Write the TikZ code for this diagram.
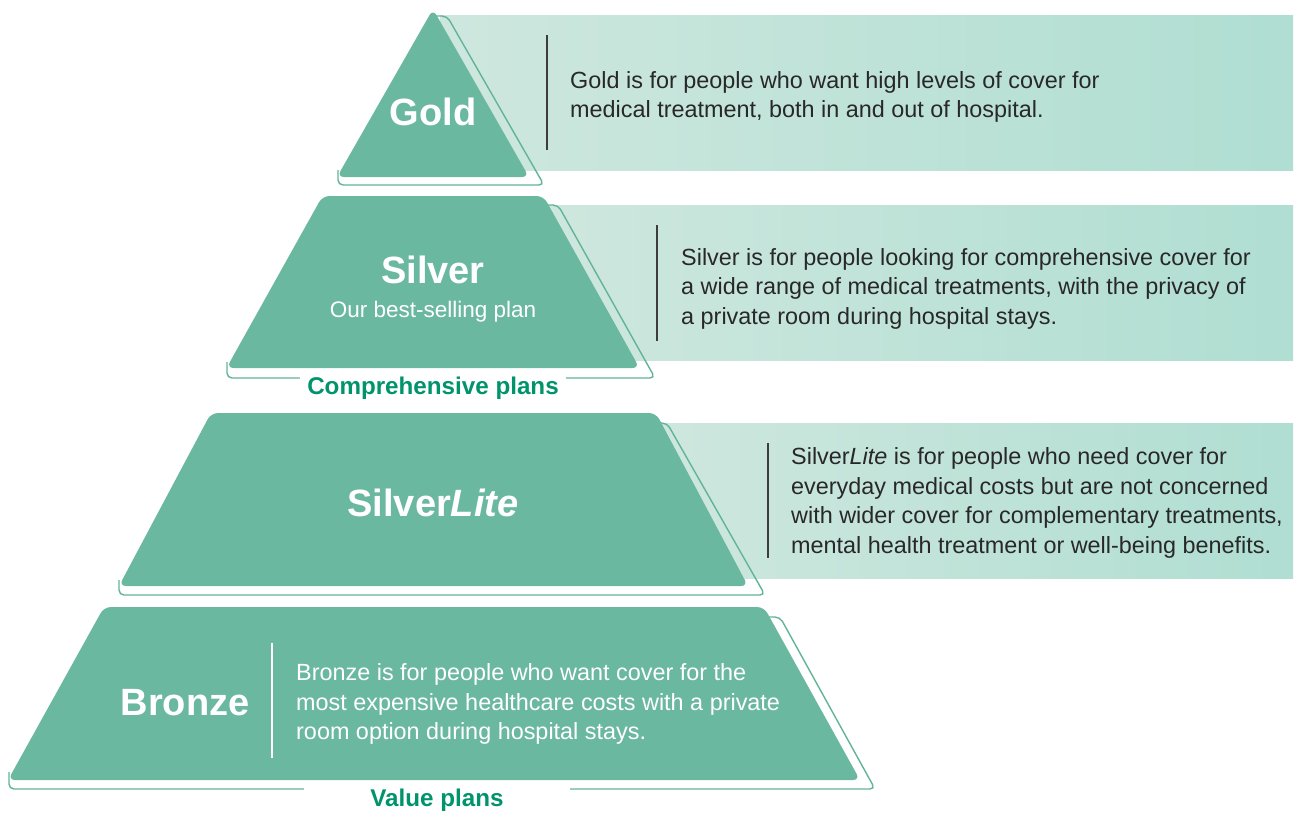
\documentclass[tikz,border=0pt]{standalone}
\usepackage{fontspec}
\setmainfont{Liberation Sans}
\definecolor{pyr}{RGB}{107,184,160}
\definecolor{rim}{RGB}{98,180,152}
\definecolor{bandL}{RGB}{206,231,222}
\definecolor{bandR}{RGB}{176,222,210}
\definecolor{ink}{RGB}{40,40,40}
\definecolor{tag}{RGB}{0,148,108}
\begin{document}
\begin{tikzpicture}[x=1pt,y=-1pt,
  tier/.style={fill=pyr, rounded corners=7pt},
  rim/.style={draw=rim, line width=1.4pt, rounded corners=5pt},
  band/.style={left color=bandL, right color=bandR},
  divider/.style={draw=ink!90, line width=1.3pt},
  whiteline/.style={draw=white, line width=1.3pt},
  desc/.style={anchor=west, align=left, inner sep=0pt, text=ink,
    font=\fontsize{23.4}{29.5}\selectfont},
  head/.style={text=white, inner sep=0pt, font=\bfseries\fontsize{38}{40}\selectfont},
  tagline/.style={fill=white, text=tag, inner sep=4pt, minimum width=266pt,
    font=\bfseries\fontsize{24.2}{26}\selectfont}
]
\useasboundingbox (0,0) rectangle (1298,812);
\fill[white] (0,0) rectangle (1298,812);

% shaded description bands
\shade[band] (440,15) rectangle (1293,170);
\shade[band] (545,205) rectangle (1293,360);
\shade[band] (660,423) rectangle (1293,578);

% offset rims behind each tier
\draw[rim] (434,16) -- (447,16) -- (544,185) -- (338,185) -- (338,170);
\draw[rim] (540,205) -- (558,205) -- (655,378) -- (227,378) -- (227,362);
\draw[rim] (652,423) -- (667,423) -- (765,595) -- (119,595) -- (119,580);
\draw[rim] (766,617) -- (780,617) -- (875,789) -- (9,789) -- (9,772);

% pyramid tiers
\fill[tier] (433,9) -- (529,177) -- (337,177) -- cycle;
\fill[tier] (322.5,196) -- (543.5,196) -- (639.5,368) -- (226.5,368) -- cycle;
\fill[tier] (211,413) -- (656,413) -- (748,586) -- (119,586) -- cycle;
\fill[tier] (104,607) -- (764,607) -- (860,780) -- (8,780) -- cycle;

% group labels on the rims
\node[tagline] (comp) at (433,388) {Comprehensive plans};
\node[tagline] (value) at (437,800) {\phantom{X}Value plans\phantom{X}};

% tier headings
\node[head] (gold) at (433,112) {Gold};
\node[head] (silver) at (433,270) {Silver};
\node[text=white, inner sep=0pt, font=\fontsize{22.5}{26}\selectfont] (best) at (433,312) {Our best-selling plan};
\node[head] (lite) at (433,503) {Silver\textit{Lite}};
\node[head] (bronze) at (185,703) {Bronze};

% dividers
\draw[divider] (547,35) -- (547,150);
\draw[divider] (657,225) -- (657,341);
\draw[divider] (768,443) -- (768,558);
\draw[whiteline] (272,643) -- (272,758);

% descriptions
\node[desc] (golddesc) at (570,97) {Gold is for people who want high levels of cover for\\medical treatment, both in and out of hospital.};
\node[desc] (silverdesc) at (681,288.5) {Silver is for people looking for comprehensive cover for\\a wide range of medical treatments, with the privacy of\\a private room during hospital stays.};
\node[desc] (litedesc) at (791,503) {Silver\textit{Lite} is for people who need cover for\\everyday medical costs but are not concerned\\with wider cover for complementary treatments,\\mental health treatment or well-being benefits.};
\node[desc, text=white] (bronzedesc) at (296,704) {Bronze is for people who want cover for the\\most expensive healthcare costs with a private\\room option during hospital stays.};
\end{tikzpicture}
\end{document}
